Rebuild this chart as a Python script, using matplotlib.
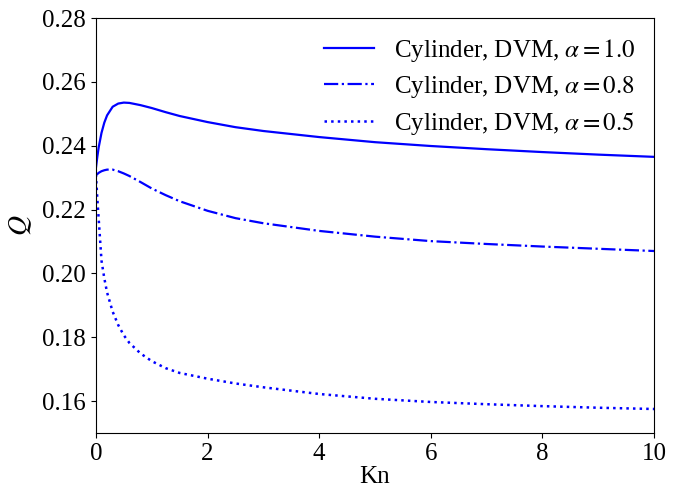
import matplotlib
matplotlib.use("Agg")
import matplotlib.pyplot as plt

plt.rcParams['font.family'] = 'serif'
plt.rcParams['font.serif'] = ['Liberation Serif', 'DejaVu Serif']
plt.rcParams['mathtext.fontset'] = 'stix'

kn = [0, 0.025, 0.05, 0.1, 0.15, 0.2, 0.3, 0.4, 0.5, 0.6, 0.8, 1.0, 1.25, 1.5, 2, 2.5, 3, 4, 5, 6, 7, 8, 9, 10]
q_a10 = [0.2330, 0.2365, 0.2395, 0.2440, 0.2472, 0.2495, 0.2522, 0.2532, 0.2535, 0.2534, 0.2527, 0.2518,
         0.2505, 0.2493, 0.2474, 0.2458, 0.2446, 0.2427, 0.2411, 0.2399, 0.2389, 0.2380, 0.2372, 0.2365]
q_a08 = [0.2308, 0.2311, 0.2315, 0.2320, 0.2323, 0.2325, 0.2325, 0.2320, 0.2313, 0.2305, 0.2286, 0.2266,
         0.2245, 0.2226, 0.2196, 0.2173, 0.2157, 0.2133, 0.2115, 0.2101, 0.2092, 0.2084, 0.2077, 0.2070]
q_a05 = [0.2310, 0.2235, 0.2170, 0.2040, 0.1985, 0.1940, 0.1880, 0.1838, 0.1806, 0.1782, 0.1749, 0.1725,
         0.1703, 0.1688, 0.1670, 0.1655, 0.1643, 0.1622, 0.1607, 0.1597, 0.1590, 0.1584, 0.1579, 0.1575]

fig = plt.figure(figsize=(6.9, 4.87), dpi=100)
ax = fig.add_axes([0.139, 0.111, 0.809, 0.852])

ax.plot(kn, q_a10, color='blue', ls='-', lw=1.6, label=r'Cylinder, DVM, $\alpha = 1.0$')
ax.plot(kn, q_a08, color='blue', ls='-.', lw=1.6, label=r'Cylinder, DVM, $\alpha = 0.8$')
ax.plot(kn, q_a05, color='blue', ls=':', lw=1.8, label=r'Cylinder, DVM, $\alpha = 0.5$')

ax.set_xlim(0, 10)
ax.set_ylim(0.15, 0.28)
ax.set_xticks([0, 2, 4, 6, 8, 10])
ax.set_yticks([0.16, 0.18, 0.20, 0.22, 0.24, 0.26, 0.28])
ax.tick_params(labelsize=18)
ax.set_xlabel('Kn', fontsize=18, labelpad=1)
ax.set_ylabel(r'$Q$', fontsize=20, labelpad=6)

ax.legend(loc='upper right', frameon=False, fontsize=18, handlelength=2.0,
          labelspacing=0.4, borderaxespad=0.35)

fig.savefig('out.png', dpi=100)
